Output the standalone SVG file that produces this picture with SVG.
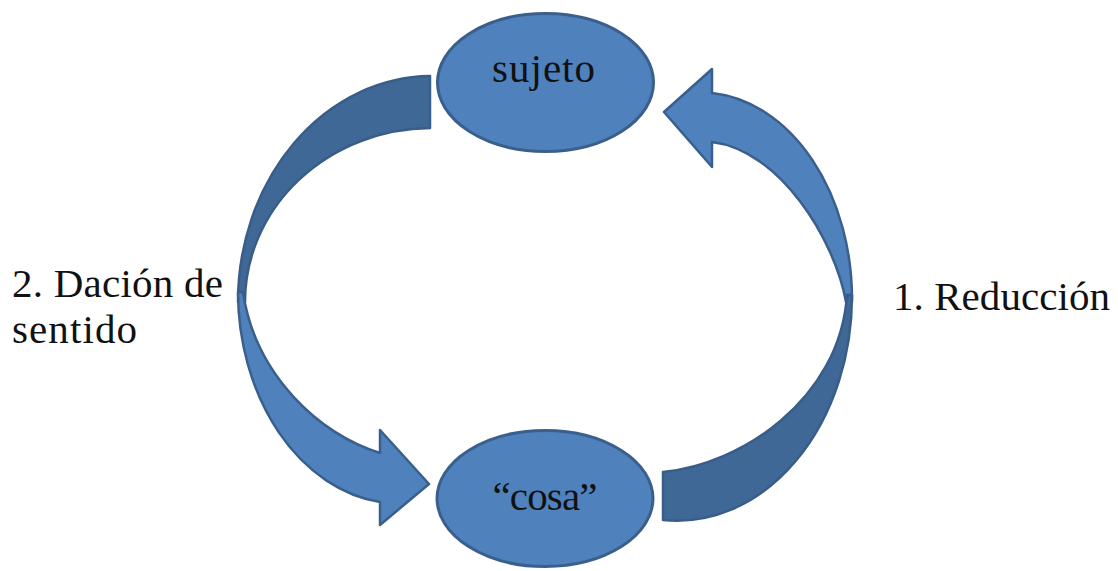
<svg xmlns="http://www.w3.org/2000/svg" width="1118" height="571" viewBox="0 0 1118 571">
  <style>
    .node { fill: #4F81BD; stroke: #3A5F8C; stroke-width: 3; }
    .dark { fill: #3F6896; stroke: #385D89; stroke-width: 2.5; stroke-linejoin: round; }
    .light { fill: #4F81BD; stroke: #3A5F8C; stroke-width: 2.5; stroke-linejoin: round; }
    .lbl { font-family: "Liberation Serif", "Times New Roman", "DejaVu Serif", serif; font-size: 41px; fill: #111111; }
  </style>
  <rect width="1118" height="571" fill="#FFFFFF"/>
  <g id="connectors">
    <g id="arrow-dacion">
      <path class="dark" d="M430,76 A194,226 0 0 0 238,302 L245,302 A187,174 0 0 1 430,128 Z"/>
      <path class="light" d="M238,292 A162,212 0 0 0 380,502 L380,525 L429,484 L380,430 L380,453 C320,435 255,375 243,292 Z"/>
    </g>
    <g id="arrow-reduccion">
      <path class="light" d="M712,93 A152,207 0 0 1 852,302 L846,302 C835,240 780,150 712,142 L712,167 L664,112 L712,69 Z"/>
      <path class="dark" d="M852,295 A175,225 0 0 1 663,520 L663,472 C740,465 840,400 847,295 Z"/>
    </g>
  </g>
  <g id="node-sujeto">
    <ellipse class="node" cx="545.5" cy="82.5" rx="108" ry="69"/>
    <text class="lbl" x="543.5" y="82" text-anchor="middle" textLength="103" lengthAdjust="spacing">sujeto</text>
  </g>
  <g id="node-cosa">
    <ellipse class="node" cx="545" cy="498.5" rx="108" ry="68"/>
    <text class="lbl" x="545" y="510" text-anchor="middle" textLength="105" lengthAdjust="spacing">“cosa”</text>
  </g>
  <g id="label-dacion">
    <text class="lbl" x="12" y="297" textLength="211" lengthAdjust="spacing">2. Dación de</text>
    <text class="lbl" x="12" y="343" textLength="125" lengthAdjust="spacing">sentido</text>
  </g>
  <g id="label-reduccion">
    <text class="lbl" x="893" y="310" textLength="217" lengthAdjust="spacing">1. Reducción</text>
  </g>
</svg>
